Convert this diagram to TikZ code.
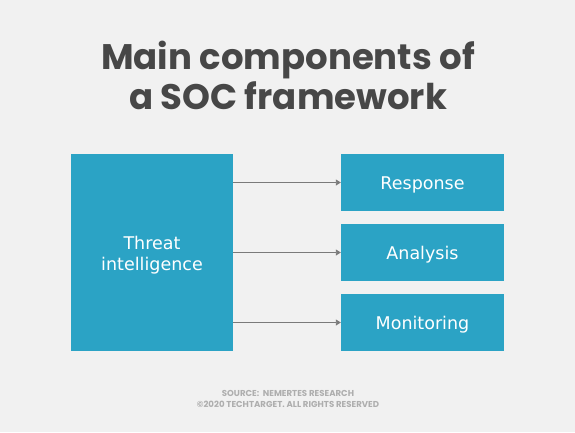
\documentclass[tikz,border=0pt]{standalone}
\usepackage{fontspec}
\setmainfont{DejaVu Sans}
\newfontfamily\titlefont{Poppins}
\usetikzlibrary{positioning}
\usetikzlibrary{arrows.meta}
\definecolor{colorBG}{HTML}{F1F1F1}
\definecolor{colorBOX}{HTML}{2BA3C5}
\definecolor{colorTITLE}{HTML}{474747}
\definecolor{colorSRC}{HTML}{AEAEAE}
\definecolor{colorARR}{HTML}{7A7A7A}
\tikzset{
   every path/.style={>={Triangle[length=5pt,width=6pt]}},
   box/.style={fill=colorBOX,inner sep=0pt},
   lbl/.style={text=white,font=\fontsize{17.5}{21}\selectfont,align=center,yshift=-2pt},
   comp/.style={box,minimum width=163pt,minimum height=57pt},
   arr/.style={->,color=colorARR,line width=0.9pt},
}
\begin{document}
\begin{tikzpicture}[x=1pt,y=-1pt]
        \useasboundingbox[fill=colorBG] (0,0) rectangle (575,432);

        \node[text=colorTITLE,align=center,font=\titlefont\bfseries\fontsize{35.5}{40}\selectfont] (title) at (288, 75) {Main components of\\a SOC framework};

        \node[box,minimum width=162pt,minimum height=197pt,label={[lbl,yshift=-1pt]center:Threat\\intelligence}] (threat) at (152, 252.5) {};

        \node[comp,label={[lbl]center:Response}]   (resp) at (422.5, 182.5) {};
        \node[comp,label={[lbl]center:Analysis}]   (anal) at (422.5, 252.5) {};
        \node[comp,label={[lbl]center:Monitoring}] (mon)  at (422.5, 322.5) {};

        \draw[arr] (threat.east |- resp) -- (resp.west);
        \draw[arr] (threat.east |- anal) -- (anal.west);
        \draw[arr] (threat.east |- mon)  -- (mon.west);

        \node[text=colorSRC,align=center,font=\titlefont\bfseries\fontsize{8.6}{11.5}\selectfont] (src) at (288, 399) {SOURCE:\ \ NEMERTES RESEARCH\\\textcopyright2020 TECHTARGET. ALL RIGHTS RESERVED};
      \end{tikzpicture}
\end{document}
